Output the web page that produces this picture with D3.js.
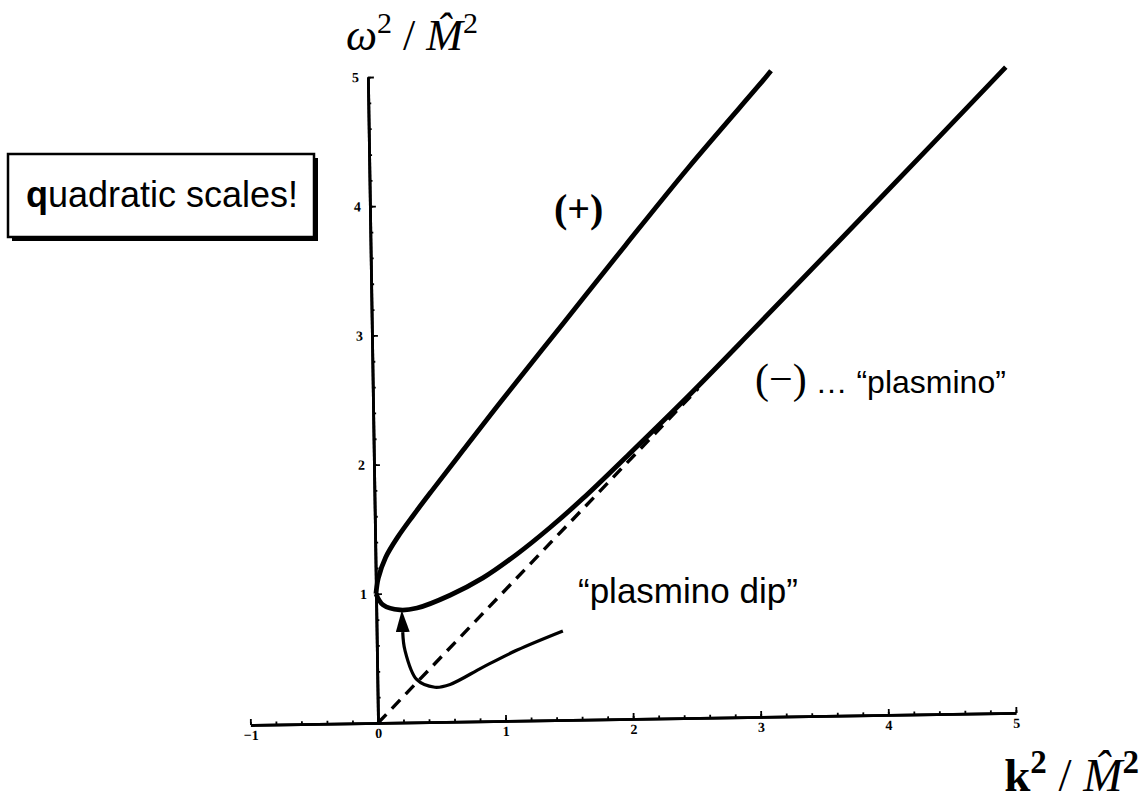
<!DOCTYPE html>
<html>
<head>
<meta charset="utf-8">
<script src="https://cdn.jsdelivr.net/npm/d3@7"></script>
<style>
  body { margin: 0; background: #fff; }
  svg { display: block; }
</style>
</head>
<body>
<script>
// values (k^2 / M^2 on x, omega^2 / M^2 on y)
const plusK  = [0, 0.02, 0.08, 0.18, 0.3, 0.45, 0.7, 1.0, 1.5, 2.0, 2.5, 3.1, 3.16];
const plusW  = [1.0, 1.12, 1.28, 1.44, 1.6, 1.79, 2.1, 2.47, 3.07, 3.67, 4.26, 4.93, 5.0];

const minusK = [0, 0.054, 0.186, 0.32, 0.58, 0.84, 1.11, 1.37, 1.63, 2.0, 2.5, 3.0, 4.0, 5.0];
const minusW = [1.0, 0.913, 0.872, 0.885, 0.98, 1.11, 1.29, 1.49, 1.71, 2.05, 2.52, 3.01, 4.0, 5.0];

const lightK = [0, 2.55];
const lightW = [0, 2.55];

// the hand-drawn pointer for "plasmino dip"
const arrowK = [1.46, 1.10, 0.83, 0.57, 0.45, 0.31, 0.22, 0.205];
const arrowW = [0.69, 0.548, 0.42, 0.29, 0.27, 0.33, 0.56, 0.70];

const xTicks = [-1, 0, 1, 2, 3, 4, 5];
const yTicks = [1, 2, 3, 4, 5];
const xMinor = d3.range(-1, 5.001, 0.2);
const yMinor = d3.range(0, 5.001, 0.2);

const W = 1141, H = 806;
const ox = 378, oy = 723;

const svg = d3.select('body').append('svg')
  .attr('width', W)
  .attr('height', H);

const x = d3.scaleLinear().domain([-1, 5]).range([ox - 127.6, ox + 5 * 127.6]);
const y = d3.scaleLinear().domain([0, 5]).range([oy, oy - 5 * 129.2]);

// the scan is a little tilted
const plot = svg.append('g')
  .attr('transform', `rotate(-0.9, ${ox}, ${oy})`);

const tickFont = 'Liberation Serif';

// x axis
plot.append('g')
  .attr('transform', `translate(0,${oy})`)
  .call(d3.axisBottom(x).tickValues(xTicks).tickSize(-6).tickSizeOuter(0).tickPadding(5).tickFormat(d3.format('d')));
plot.append('g')
  .attr('transform', `translate(0,${oy})`)
  .call(d3.axisBottom(x).tickValues(xMinor).tickSize(-3).tickSizeOuter(0).tickFormat(''));

// y axis
plot.append('g')
  .attr('transform', `translate(${ox},0)`)
  .call(d3.axisLeft(y).tickValues(yTicks).tickSize(-6).tickSizeOuter(0).tickPadding(9).tickFormat(d3.format('d')));
plot.append('g')
  .attr('transform', `translate(${ox},0)`)
  .call(d3.axisLeft(y).tickValues(yMinor).tickSize(-3).tickSizeOuter(0).tickFormat(''));

plot.selectAll('.domain').attr('stroke', '#000').attr('stroke-width', 2.8);
plot.selectAll('.tick line').attr('stroke', '#000').attr('stroke-width', 1.8);
plot.selectAll('.tick text')
  .style('font-family', tickFont)
  .style('font-weight', 'bold')
  .style('font-size', '14px')
  .attr('fill', '#000');

const line = d3.line()
  .x(d => x(d[0]))
  .y(d => y(d[1]));

// light cone
plot.append('path')
  .datum(d3.zip(lightK, lightW))
  .attr('d', line)
  .attr('fill', 'none')
  .attr('stroke', '#000')
  .attr('stroke-width', 3.4)
  .attr('stroke-dasharray', '12,8');

// (+) branch
plot.append('path')
  .datum(d3.zip(plusK, plusW))
  .attr('d', line.curve(d3.curveCatmullRom))
  .attr('fill', 'none')
  .attr('stroke', '#000')
  .attr('stroke-width', 4.8);

// (-) branch
plot.append('path')
  .datum(d3.zip(minusK, minusW))
  .attr('d', line.curve(d3.curveCatmullRom))
  .attr('fill', 'none')
  .attr('stroke', '#000')
  .attr('stroke-width', 4.8);

// arrow
svg.append('defs').append('marker')
  .attr('id', 'head')
  .attr('markerUnits', 'userSpaceOnUse')
  .attr('viewBox', '0 0 22 14')
  .attr('markerWidth', 22)
  .attr('markerHeight', 14)
  .attr('refX', 0)
  .attr('refY', 7)
  .attr('orient', 'auto')
  .append('path')
  .attr('d', 'M0,0 L22,7 L0,14 Z')
  .attr('fill', '#000');

plot.append('path')
  .datum(d3.zip(arrowK, arrowW))
  .attr('d', line.curve(d3.curveCatmullRom))
  .attr('fill', 'none')
  .attr('stroke', '#000')
  .attr('stroke-width', 3.2)
  .attr('marker-end', 'url(#head)');

// labels
const serif = 'Liberation Serif';
const sans = 'Liberation Sans';

const yLab = svg.append('text')
  .attr('x', 346)
  .attr('y', 50)
  .style('font-family', serif)
  .style('font-size', '44px');
yLab.append('tspan').style('font-style', 'italic').text('ω');
yLab.append('tspan').attr('dy', -17).style('font-size', '30px').text('2');
yLab.append('tspan').attr('dy', 17).text(' / ');
yLab.append('tspan').style('font-style', 'italic').text('M\u0302');
yLab.append('tspan').attr('dy', -17).style('font-size', '30px').text('2');

const xLab = svg.append('text')
  .attr('x', 1139)
  .attr('y', 791)
  .attr('text-anchor', 'end')
  .style('font-family', serif)
  .style('font-size', '47px');
xLab.append('tspan').style('font-weight', 'bold').text('k');
xLab.append('tspan').attr('dy', -18).style('font-size', '33px').style('font-weight', 'bold').text('2');
xLab.append('tspan').attr('dy', 18).text(' / ');
xLab.append('tspan').style('font-style', 'italic').text('M\u0302');
xLab.append('tspan').attr('dy', -18).style('font-size', '33px').style('font-weight', 'bold').text('2');

svg.append('text')
  .attr('x', 554)
  .attr('y', 222)
  .style('font-family', serif)
  .style('font-weight', 'bold')
  .style('font-size', '40px')
  .text('(+)');

const minusLab = svg.append('text')
  .attr('x', 755)
  .attr('y', 393);
minusLab.append('tspan').style('font-family', serif).style('font-size', '42px').text('(−)');
minusLab.append('tspan').style('font-family', sans).style('font-size', '32px').text(' … “plasmino”');

svg.append('text')
  .attr('x', 578)
  .attr('y', 603)
  .style('font-family', sans)
  .style('font-size', '35px')
  .text('“plasmino dip”');

// boxed note
svg.append('rect')
  .attr('x', 12).attr('y', 158)
  .attr('width', 306).attr('height', 83)
  .attr('fill', '#000');
svg.append('rect')
  .attr('x', 8).attr('y', 154)
  .attr('width', 306).attr('height', 83)
  .attr('fill', '#fff')
  .attr('stroke', '#000')
  .attr('stroke-width', 2.5);
const note = svg.append('text')
  .attr('x', 26)
  .attr('y', 207)
  .style('font-family', sans)
  .style('font-size', '36px');
note.append('tspan').style('font-weight', 'bold').text('q');
note.append('tspan').text('uadratic scales!');
</script>
</body>
</html>
